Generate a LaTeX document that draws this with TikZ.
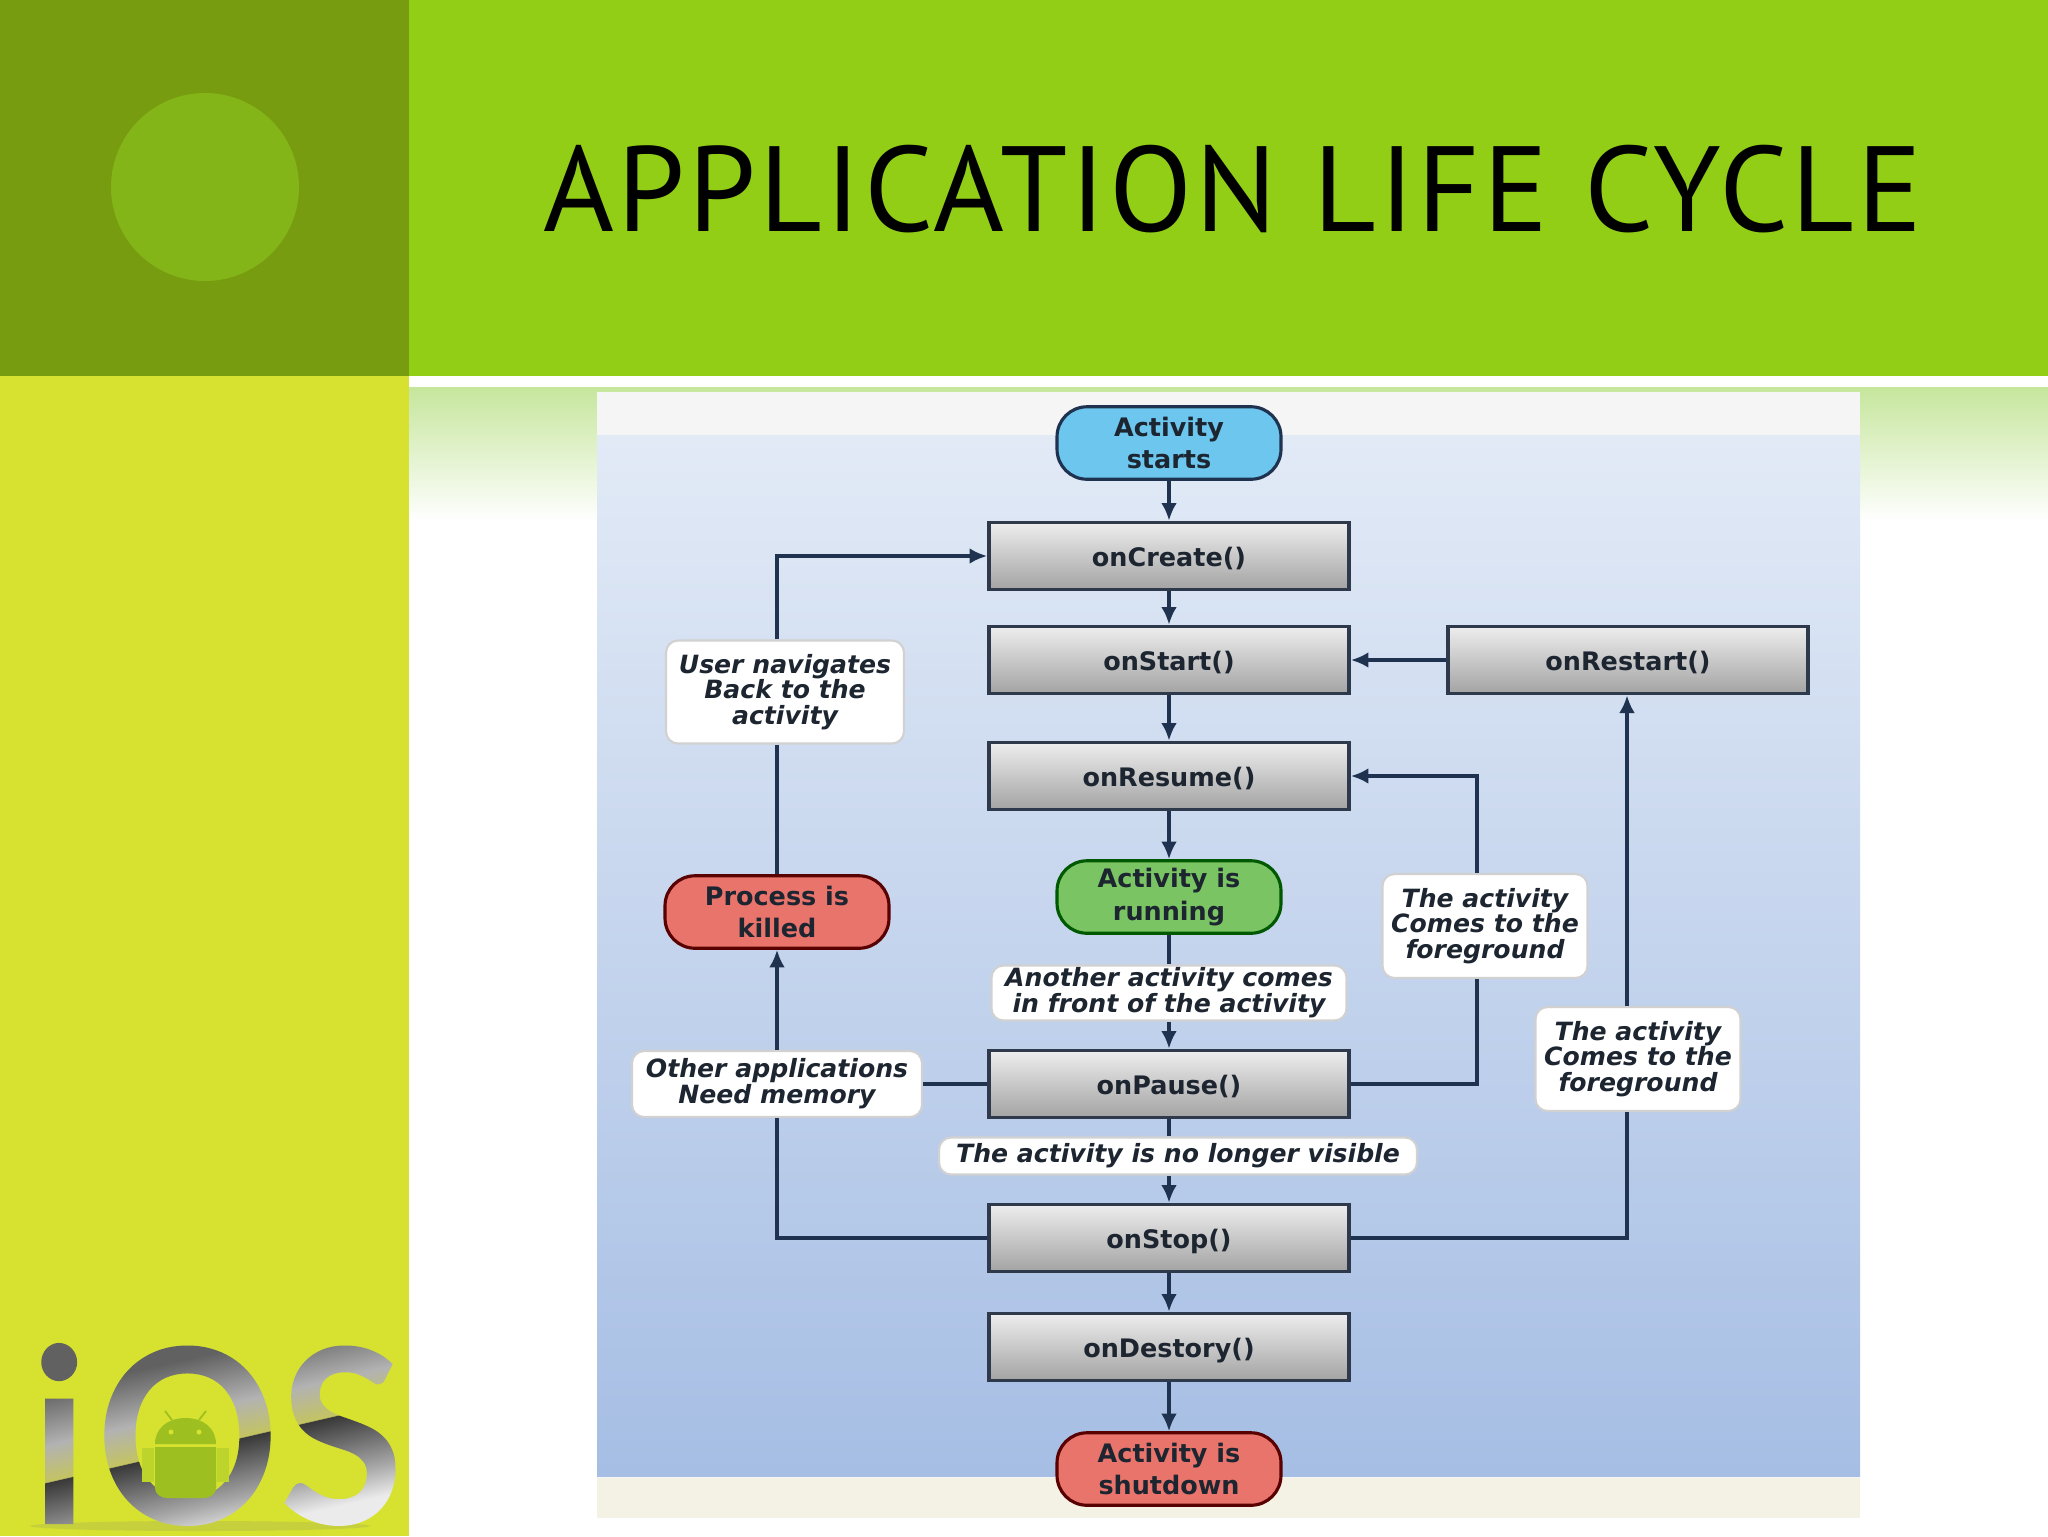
\documentclass[tikz,border=0pt]{standalone}
\usepackage{fontspec}
\setmainfont{DejaVu Sans}
\newfontfamily\titlefont[LetterSpace=2.8]{PT Sans}
\newfontfamily\logofont[FakeStretch=0.93]{Lato}
\usetikzlibrary{arrows.meta,shadings}
\definecolor{hdgreen}{HTML}{92CE16}
\definecolor{hddark}{HTML}{789C0F}
\definecolor{hdcirc}{HTML}{84B518}
\definecolor{sidegreen}{HTML}{D6E22F}
\definecolor{bandgreen}{HTML}{C6E69C}
\definecolor{linedark}{HTML}{1F3350}
\definecolor{boxline}{HTML}{2E3A4C}
\definecolor{txt}{HTML}{1C2530}
\definecolor{robot}{HTML}{9DC020}
\definecolor{robotarm}{HTML}{BCD42C}
\definecolor{startfill}{HTML}{6CC6EE}
\definecolor{runfill}{HTML}{7AC463}
\definecolor{stopfill}{HTML}{E8746C}
\definecolor{panelbot}{HTML}{F4F2E4}
\definecolor{paneltop}{HTML}{E2EAF6}
\definecolor{panellow}{HTML}{A6BEE4}
\pgfdeclareverticalshading{iosmetal}{100bp}{
 color(0bp)=(black!8);
 color(28bp)=(black!8);
 color(35bp)=(gray!70);
 color(47.9bp)=(black!78);
 color(48bp)=(yellow!45!gray!85);
 color(56bp)=(gray!60);
 color(68bp)=(black!62);
 color(100bp)=(black!62)}
\tikzset{
 procbox/.style={draw=boxline,line width=2.2pt,top color=black!7,bottom color=black!36,minimum width=7.2cm,minimum height=1.34cm,inner sep=0pt,text=txt,text height=14.5pt,text depth=2.5pt,font=\bfseries\fontsize{14.5pt}{18pt}\selectfont},
 termbox/.style={draw=#1,line width=1.8pt,rounded corners=0.6cm,minimum width=4.48cm,minimum height=1.45cm,inner sep=0pt,text=txt,align=center,font=\bfseries\fontsize{14.5pt}{18.7pt}\selectfont},
 notebox/.style={draw=black!18,line width=1.2pt,fill=white,rounded corners=0.24cm,inner sep=0pt,text=txt,align=center,font=\bfseries\itshape\fontsize{14.3pt}{14.7pt}\selectfont},
 flow/.style={draw=linedark,line width=1.9pt},
 arr/.style={flow,-{Latex[length=10pt,width=9pt]}}
}
\begin{document}
\begin{tikzpicture}[x=0.02cm,y=-0.02cm]
\useasboundingbox (0,0) rectangle (2048,1536);
\fill[white] (0,0) rectangle (2048,1536);
% slide background
\fill[hdgreen] (409,0) rectangle (2048,376);
\fill[hddark] (0,0) rectangle (409,376);
\fill[sidegreen] (0,376) rectangle (409,1536);
\fill[hdcirc] (205,187) circle (94);
\shade[top color=bandgreen,bottom color=white] (409,387) rectangle (2048,522);
\node[inner sep=0pt,anchor=center,text=black,font=\titlefont\fontsize{69pt}{69pt}\selectfont] (title) at (1233,189) {APPLICATION LIFE CYCLE};
% image panel
\fill[black!4] (597,392) rectangle (1860,1518);
\fill[panelbot] (597,1478) rectangle (1860,1518);
\shade[top color=paneltop,bottom color=panellow] (597,435) rectangle (1860,1476);
% logo
\fill[gray!60!sidegreen,opacity=.3] (200,1526) ellipse (170 and 5);
\node[inner sep=0pt,anchor=base west,font=\logofont\bfseries\fontsize{139pt}{139pt}\selectfont] (logo) at (30,1524) {\special{pdf:code q 7 Tr}\rlap{i\kern4.5pt OS}\special{pdf:code 0 Tr}\tikz[baseline=0pt,x=0.02cm,y=-0.02cm]{\shade[shading=iosmetal,shading angle=13] (0,-185) rectangle (370,5);}\special{pdf:code Q}};
% android robot
\fill[robotarm] (142,1448) rectangle (154,1482);
\fill[robotarm] (217,1448) rectangle (229,1482);
\fill[robot] (155,1447) -- (216,1447) -- (216,1488) .. controls (216,1494) and (210,1498) .. (204,1498) -- (167,1498) .. controls (161,1498) and (155,1494) .. (155,1488) -- cycle;
\fill[robot] (155,1444) .. controls (155,1428) and (168,1418) .. (185.5,1418) .. controls (203,1418) and (216,1428) .. (216,1444) -- cycle;
\draw[robot,line width=1pt] (172,1420) -- (165,1411) (199,1420) -- (206,1411);
\fill[sidegreen] (171,1432) circle (2.5) (199,1432) circle (2.5);
% flow nodes
\node[termbox=linedark,fill=startfill] (start) at (1169,443) {Activity\\starts};
\node[procbox] (create) at (1169,556) {onCreate()};
\node[procbox] (pstart) at (1169,660) {onStart()};
\node[procbox] (restart) at (1628,660) {onRestart()};
\node[procbox] (resume) at (1169,776) {onResume()};
\node[termbox=green!35!black,fill=runfill] (running) at (1169,897) {Activity is\\running};
\node[notebox,minimum width=7.1cm,minimum height=1.1cm] (another) at (1169,993) {Another activity comes\\in front of the activity};
\node[procbox] (pause) at (1169,1084) {onPause()};
\node[notebox,minimum width=9.56cm,minimum height=.74cm] (visible) at (1178,1156) {The activity is no longer visible};
\node[procbox] (stopn) at (1169,1238) {onStop()};
\node[procbox] (destroy) at (1169,1347) {onDestory()};
\node[termbox=black!65!red,fill=stopfill] (shutdown) at (1169,1469) {Activity is\\shutdown};
\node[termbox=black!65!red,fill=stopfill] (killed) at (777,912) {Process is\\killed};
\node[notebox,minimum width=4.76cm,minimum height=2.06cm] (user) at (785,692) {User navigates\\Back to the\\activity};
\node[notebox,minimum width=5.8cm,minimum height=1.32cm] (other) at (777,1084) {Other applications\\Need memory};
\node[notebox,minimum width=4.1cm,minimum height=2.08cm] (front) at (1485,926) {The activity\\Comes to the\\foreground};
\node[notebox,minimum width=4.1cm,minimum height=2.08cm] (fronttwo) at (1638,1059) {The activity\\Comes to the\\foreground};
\coordinate (colL) at (777,0);
\coordinate (colR) at (1477,0);
\coordinate (colF) at (1627,0);
% connectors
\draw[arr] (start) -- (create);
\draw[arr] (create) -- (pstart);
\draw[arr] (pstart) -- (resume);
\draw[arr] (resume) -- (running);
\draw[flow] (running) -- (another);
\draw[arr] (another) -- (pause);
\draw[flow] (pause) -- (pause |- visible.north);
\draw[arr] (pause |- visible.south) -- (stopn);
\draw[arr] (stopn) -- (destroy);
\draw[arr] (destroy) -- (shutdown);
\draw[arr] (restart) -- (pstart);
\draw[flow] (pause.east) -| (colR |- front.south);
\draw[arr] (colR |- front.north) |- (resume.east);
\draw[flow] (stopn.east) -| (colF |- fronttwo.south);
\draw[arr] (colF |- fronttwo.north) -- (colF |- restart.south);
\draw[flow] (stopn.west) -| (colL |- other.south);
\draw[flow] (pause.west) -- (other.east);
\draw[arr] (colL |- other.north) -- (killed.south);
\draw[flow] (killed.north) -- (colL |- user.south);
\draw[arr] (colL |- user.north) |- (create.west);
\end{tikzpicture}
\end{document}
